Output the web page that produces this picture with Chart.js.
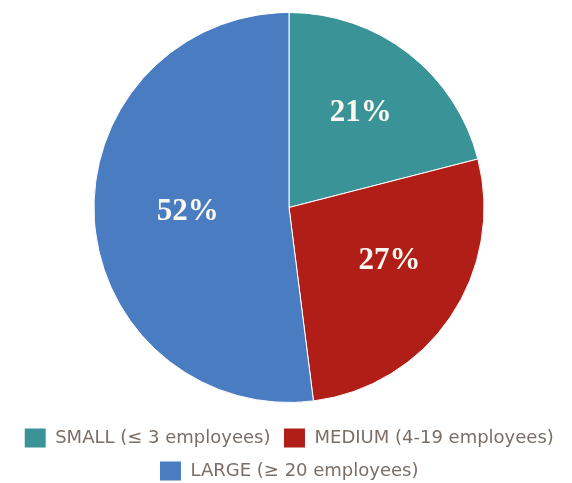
<!DOCTYPE html>
<html>
<head>
<meta charset="utf-8">
<script src="https://cdn.jsdelivr.net/npm/chart.js@4.4.0/dist/chart.umd.min.js"></script>
<style>
  html, body { margin: 0; padding: 0; background: #fff; }
  #wrap { width: 572px; height: 483px; }
</style>
</head>
<body>
<div id="wrap"><canvas id="chart"></canvas></div>
<script>
const categories = ['SMALL (\u2264 3 employees)', 'MEDIUM (4-19 employees)', 'LARGE (\u2265 20 employees)']
const shares = [21, 27, 52]
const colors = ['#3a9397', '#b11d17', '#4a7cc2']

// white percentage text inside each slice
const sliceLabels = {
    id: 'sliceLabels',
    afterDatasetsDraw(chart, args, opts) {
        const ctx = chart.ctx
        const arcs = chart.getDatasetMeta(0).data

        ctx.save()
        ctx.font = 'bold 31px "Liberation Serif", serif'
        ctx.fillStyle = '#fbf8f2'
        ctx.textAlign = 'center'
        ctx.textBaseline = 'middle'

        arcs.forEach((arc, i) => {
            const {x, y, startAngle, endAngle, outerRadius} = arc.getProps(['x', 'y', 'startAngle', 'endAngle', 'outerRadius'], true)
            const mid = (startAngle + endAngle) / 2 + opts.turn[i]
            const r = outerRadius * opts.radius[i]

            ctx.fillText(shares[i] + '%', x + Math.cos(mid) * r, y + Math.sin(mid) * r - 2)
        })

        ctx.restore()
    }
}

new Chart(document.getElementById('chart'), {
    type: 'pie',
    data: {
        labels: categories,
        datasets: [{
            data: shares,
            backgroundColor: colors,
            borderColor: '#ffffff',
            borderWidth: 1,
            radius: 195
        }]
    },
    options: {
        responsive: true,
        maintainAspectRatio: false,
        animation: false,
        layout: {
            padding: {top: 0, left: 6, right: 0, bottom: -8}
        },
        plugins: {
            tooltip: {enabled: false},
            sliceLabels: {radius: [0.6, 0.59, 0.52], turn: [0, -0.09, 0]},
            legend: {
                position: 'bottom',
                labels: {
                    boxWidth: 22,
                    boxHeight: 20,
                    padding: 13,
                    color: '#7a6e66',
                    font: {family: '"DejaVu Sans", sans-serif', size: 18}
                }
            }
        }
    },
    plugins: [sliceLabels]
})
</script>
</body>
</html>
